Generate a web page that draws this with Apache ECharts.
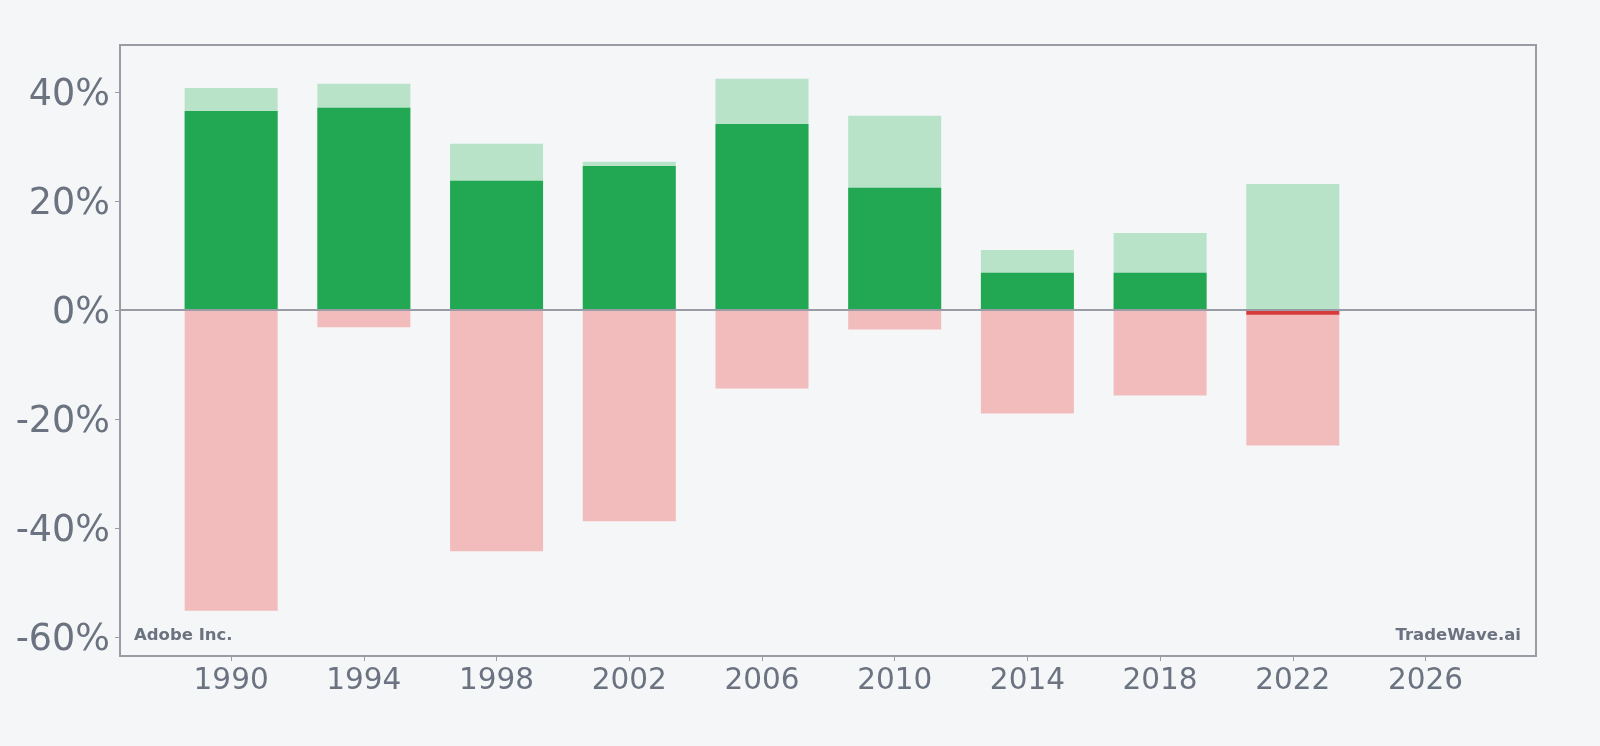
<!DOCTYPE html>
<html>
<head>
<meta charset="utf-8">
<script src="https://cdn.jsdelivr.net/npm/echarts@6/dist/echarts.min.js"></script>
<style>
  html, body { margin: 0; padding: 0; background: #f4f6f8; }
  #chart { width: 1600px; height: 746px; }
</style>
</head>
<body>
<div id="chart"></div>
<script>
// data
const years = [1990, 1994, 1998, 2002, 2006, 2010, 2014, 2018, 2022];
const highs = [40.7, 41.5, 30.5, 27.2, 42.4, 35.6, 11.0, 14.1, 23.1];   // light green
const lows = [-55.2, -3.2, -44.3, -38.8, -14.4, -3.6, -19.0, -15.7, -24.9]; // light red
const closes = [36.5, 37.1, 23.7, 26.4, 34.1, 22.4, 6.8, 6.8, -0.9];   // solid bar
const xTicks = [1990, 1994, 1998, 2002, 2006, 2010, 2014, 2018, 2022, 2026];
const yTicks = [-60, -40, -20, 0, 20, 40];

window.onload = function () {
  let chart = echarts.init(document.getElementById('chart'));
  const gray = '#6b7280';
  const lineGray = '#9a9ca5';

  function pairs(vals) {
    return years.map((y, i) => [y, vals[i]]);
  }

  let option = {
    backgroundColor: '#f4f6f8',
    animation: false,
    textStyle: { fontFamily: 'DejaVu Sans' },
    grid: {
      left: 120, right: 64, top: 45, bottom: 90,
      show: true,
      borderColor: lineGray,
      borderWidth: 2,
      backgroundColor: 'transparent'
    },
    xAxis: {
      type: 'value',
      min: 1986.65,
      max: 2029.33,
      splitLine: { show: false },
      axisLine: { show: false, onZero: false },
      axisTick: {
        show: true, length: 5, inside: false,
        lineStyle: { color: lineGray, width: 1 },
        customValues: xTicks
      },
      axisLabel: {
        color: gray, fontSize: 29.5, margin: 10,
        customValues: xTicks,
        formatter: v => String(v)
      }
    },
    yAxis: {
      type: 'value',
      min: -63.5,
      max: 48.6,
      splitLine: { show: false },
      axisLine: { show: false, onZero: false },
      axisTick: {
        show: true, length: 5,
        lineStyle: { color: lineGray, width: 1 },
        customValues: yTicks
      },
      axisLabel: {
        color: gray, margin: 10,
        customValues: yTicks,
        formatter: v => '{p|' + v + '%}',
        rich: {
          p: { fontSize: 36.5, color: gray, padding: [8, 0, 0, 0] }
        }
      }
    },
    series: [
      {
        name: 'high', type: 'bar', barWidth: 93, barGap: '-100%',
        itemStyle: { color: '#b9e3c9' },
        data: pairs(highs)
      },
      {
        name: 'low', type: 'bar', barWidth: 93, barGap: '-100%',
        itemStyle: { color: '#f3bcbc' },
        data: pairs(lows)
      },
      {
        name: 'close', type: 'bar', barWidth: 93, barGap: '-100%',
        itemStyle: {
          color: p => p.value[1] >= 0 ? '#22a852' : '#d93a3a'
        },
        data: pairs(closes),
        markLine: {
          silent: true, symbol: 'none',
          label: { show: false },
          lineStyle: { color: lineGray, width: 2, type: 'solid' },
          data: [{ yAxis: 0 }]
        }
      }
    ],
    graphic: [
      {
        type: 'text', left: 134, top: 627,
        style: { text: 'Adobe Inc.', fill: gray, font: 'bold 16.5px "DejaVu Sans"' }
      },
      {
        type: 'text', right: 79, top: 627,
        style: { text: 'TradeWave.ai', fill: gray, font: 'bold 16.5px "DejaVu Sans"' }
      }
    ]
  };

  chart.setOption(option);
};
</script>
</body>
</html>
